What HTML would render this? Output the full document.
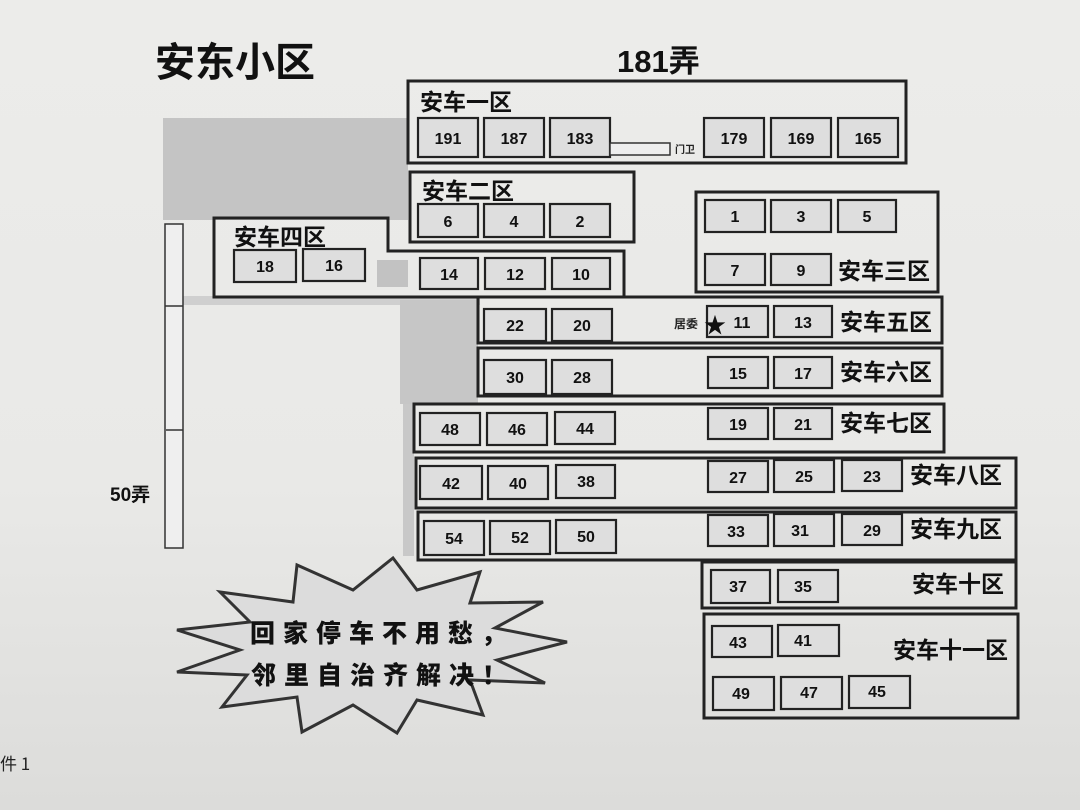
<!DOCTYPE html>
<html><head><meta charset="utf-8"><style>
html,body{margin:0;padding:0;width:1080px;height:810px;overflow:hidden}
body{background:linear-gradient(180deg,#ececea 0%,#e9e9e7 60%,#dcdcda 100%)}
svg text{font-family:"Liberation Sans","Noto Sans CJK SC",sans-serif}
.n{font-weight:bold;font-size:16px;fill:#111;text-anchor:middle}
.z{font-family:"Noto Sans CJK SC",sans-serif !important;font-size:23px;fill:#111;font-weight:bold}
.u{fill:#dedede;stroke:#222;stroke-width:2.2}
.b{fill:none;stroke:#222;stroke-width:3}
</style></head><body>
<svg width="1080" height="810" viewBox="0 0 1080 810" xmlns="http://www.w3.org/2000/svg">
<rect x="163" y="118" width="245" height="102" fill="#c4c4c4"/>
<rect x="182" y="296" width="298" height="9" fill="#cfcfcf"/>
<rect x="377" y="260" width="31" height="27" fill="#c2c2c2"/>
<rect x="400" y="300" width="78" height="104" fill="#c6c6c6"/>
<rect x="403" y="404" width="11" height="152" fill="#c8c8c8"/>
<rect x="165" y="224" width="18" height="324" fill="#efefef" stroke="#333" stroke-width="1.5"/>
<line x1="165" y1="306" x2="183" y2="306" stroke="#333" stroke-width="1.5"/>
<line x1="166" y1="430" x2="183" y2="430" stroke="#333" stroke-width="1.5"/>
<text x="110" y="501" font-size="19" font-weight="bold" fill="#111">50弄</text>
<text x="155" y="76" font-size="40" font-weight="bold" fill="#111" style="font-family:'Noto Sans CJK SC',sans-serif">安东小区</text>
<text x="617" y="72" font-size="31" font-weight="bold" fill="#111">181弄</text>
<text x="0" y="770" font-size="17" fill="#222" style="font-family:'Noto Sans CJK SC',sans-serif">件 1</text>

<rect class="b" x="408" y="81" width="498" height="82" fill="#ebebe9"/>
<text class="z" x="420" y="110">安车一区</text>
<rect class="u" x="418" y="118" width="60" height="39"/><text class="n" x="448" y="144">191</text>
<rect class="u" x="484" y="118" width="60" height="39"/><text class="n" x="514" y="144">187</text>
<rect class="u" x="550" y="118" width="60" height="39"/><text class="n" x="580" y="144">183</text>
<rect x="610" y="143" width="60" height="12" fill="#eee" stroke="#333" stroke-width="1.5"/>
<text x="675" y="153" font-size="10" font-weight="bold" fill="#222" style="font-family:'Noto Sans CJK SC',sans-serif">门卫</text>
<rect class="u" x="704" y="118" width="60" height="39"/><text class="n" x="734" y="144">179</text>
<rect class="u" x="771" y="118" width="60" height="39"/><text class="n" x="801" y="144">169</text>
<rect class="u" x="838" y="118" width="60" height="39"/><text class="n" x="868" y="144">165</text>

<rect class="b" x="410" y="172" width="224" height="70"/>
<text class="z" x="422" y="199">安车二区</text>
<rect class="u" x="418" y="204" width="60" height="33"/><text class="n" x="448" y="227">6</text>
<rect class="u" x="484" y="204" width="60" height="33"/><text class="n" x="514" y="227">4</text>
<rect class="u" x="550" y="204" width="60" height="33"/><text class="n" x="580" y="227">2</text>

<polygon class="b" points="214,218 388,218 388,251 624,251 624,297 214,297"/>
<text class="z" x="234" y="245">安车四区</text>
<rect class="u" x="234" y="250" width="62" height="32"/><text class="n" x="265" y="272">18</text>
<rect class="u" x="303" y="249" width="62" height="32"/><text class="n" x="334" y="271">16</text>
<rect class="u" x="420" y="258" width="58" height="31"/><text class="n" x="449" y="280">14</text>
<rect class="u" x="485" y="258" width="60" height="31"/><text class="n" x="515" y="280">12</text>
<rect class="u" x="552" y="258" width="58" height="31"/><text class="n" x="581" y="280">10</text>

<rect class="b" x="696" y="192" width="242" height="100"/>
<rect class="u" x="705" y="200" width="60" height="32"/><text class="n" x="735" y="222">1</text>
<rect class="u" x="771" y="200" width="60" height="32"/><text class="n" x="801" y="222">3</text>
<rect class="u" x="838" y="200" width="58" height="32"/><text class="n" x="867" y="222">5</text>
<rect class="u" x="705" y="254" width="60" height="31"/><text class="n" x="735" y="276">7</text>
<rect class="u" x="771" y="254" width="60" height="31"/><text class="n" x="801" y="276">9</text>
<text class="z" x="838" y="279">安车三区</text>

<rect class="b" x="478" y="297" width="464" height="46"/>
<rect class="u" x="484" y="309" width="62" height="32"/><text class="n" x="515" y="331">22</text>
<rect class="u" x="552" y="309" width="60" height="32"/><text class="n" x="582" y="331">20</text>
<text x="674" y="328" font-size="12" font-weight="bold" fill="#222" style="font-family:'Noto Sans CJK SC',sans-serif">居委</text>
<rect class="u" x="707" y="306" width="61" height="31"/><text class="n" x="742" y="328">11</text>
<text x="704" y="333" font-size="22" fill="#111">★</text>
<rect class="u" x="774" y="306" width="58" height="31"/><text class="n" x="803" y="328">13</text>
<text class="z" x="840" y="330">安车五区</text>

<rect class="b" x="478" y="348" width="464" height="48"/>
<rect class="u" x="484" y="360" width="62" height="34"/><text class="n" x="515" y="383">30</text>
<rect class="u" x="552" y="360" width="60" height="34"/><text class="n" x="582" y="383">28</text>
<rect class="u" x="708" y="357" width="60" height="31"/><text class="n" x="738" y="379">15</text>
<rect class="u" x="774" y="357" width="58" height="31"/><text class="n" x="803" y="379">17</text>
<text class="z" x="840" y="380">安车六区</text>

<rect class="b" x="414" y="404" width="530" height="48"/>
<rect class="u" x="420" y="413" width="60" height="32"/><text class="n" x="450" y="435">48</text>
<rect class="u" x="487" y="413" width="60" height="32"/><text class="n" x="517" y="435">46</text>
<rect class="u" x="555" y="412" width="60" height="32"/><text class="n" x="585" y="434">44</text>
<rect class="u" x="708" y="408" width="60" height="31"/><text class="n" x="738" y="430">19</text>
<rect class="u" x="774" y="408" width="58" height="31"/><text class="n" x="803" y="430">21</text>
<text class="z" x="840" y="431">安车七区</text>

<rect class="b" x="416" y="458" width="600" height="50"/>
<rect class="u" x="420" y="466" width="62" height="33"/><text class="n" x="451" y="489">42</text>
<rect class="u" x="488" y="466" width="60" height="33"/><text class="n" x="518" y="489">40</text>
<rect class="u" x="556" y="465" width="59" height="33"/><text class="n" x="586" y="487">38</text>
<rect class="u" x="708" y="461" width="60" height="31"/><text class="n" x="738" y="483">27</text>
<rect class="u" x="774" y="460" width="60" height="32"/><text class="n" x="804" y="482">25</text>
<rect class="u" x="842" y="460" width="60" height="31"/><text class="n" x="872" y="482">23</text>
<text class="z" x="910" y="483">安车八区</text>

<rect class="b" x="418" y="512" width="598" height="48"/>
<rect class="u" x="424" y="521" width="60" height="34"/><text class="n" x="454" y="544">54</text>
<rect class="u" x="490" y="521" width="60" height="33"/><text class="n" x="520" y="543">52</text>
<rect class="u" x="556" y="520" width="60" height="33"/><text class="n" x="586" y="542">50</text>
<rect class="u" x="708" y="515" width="60" height="31"/><text class="n" x="736" y="537">33</text>
<rect class="u" x="774" y="514" width="60" height="32"/><text class="n" x="800" y="536">31</text>
<rect class="u" x="842" y="514" width="60" height="31"/><text class="n" x="872" y="536">29</text>
<text class="z" x="910" y="537">安车九区</text>

<rect class="b" x="702" y="562" width="314" height="46"/>
<rect class="u" x="711" y="570" width="59" height="33"/><text class="n" x="738" y="592">37</text>
<rect class="u" x="778" y="570" width="60" height="32"/><text class="n" x="803" y="592">35</text>
<text class="z" x="912" y="592">安车十区</text>

<rect class="b" x="704" y="614" width="314" height="104"/>
<rect class="u" x="712" y="626" width="60" height="31"/><text class="n" x="738" y="648">43</text>
<rect class="u" x="778" y="625" width="61" height="31"/><text class="n" x="803" y="646">41</text>
<rect class="u" x="713" y="677" width="61" height="33"/><text class="n" x="741" y="699">49</text>
<rect class="u" x="781" y="677" width="61" height="32"/><text class="n" x="809" y="698">47</text>
<rect class="u" x="849" y="676" width="61" height="32"/><text class="n" x="877" y="697">45</text>
<text class="z" x="893" y="658">安车十一区</text>

<polygon points="393,558 417,590 480,572 470,603 543,602 495,628 567,642 497,660 545,683 470,680 483,715 417,700 397,733 353,705 302,732 297,697 222,707 247,675 177,672 240,650 177,630 250,622 220,592 293,602 297,565 353,590" fill="#dcdcdc" stroke="#333" stroke-width="3" stroke-linejoin="miter"/>
<text x="250" y="642" font-size="25" font-weight="900" fill="#111" letter-spacing="8" style="font-family:'Noto Sans CJK SC',sans-serif">回家停车不用愁，</text>
<text x="251" y="684" font-size="25" font-weight="900" fill="#111" letter-spacing="8" style="font-family:'Noto Sans CJK SC',sans-serif">邻里自治齐解决！</text>
</svg>
</body></html>
